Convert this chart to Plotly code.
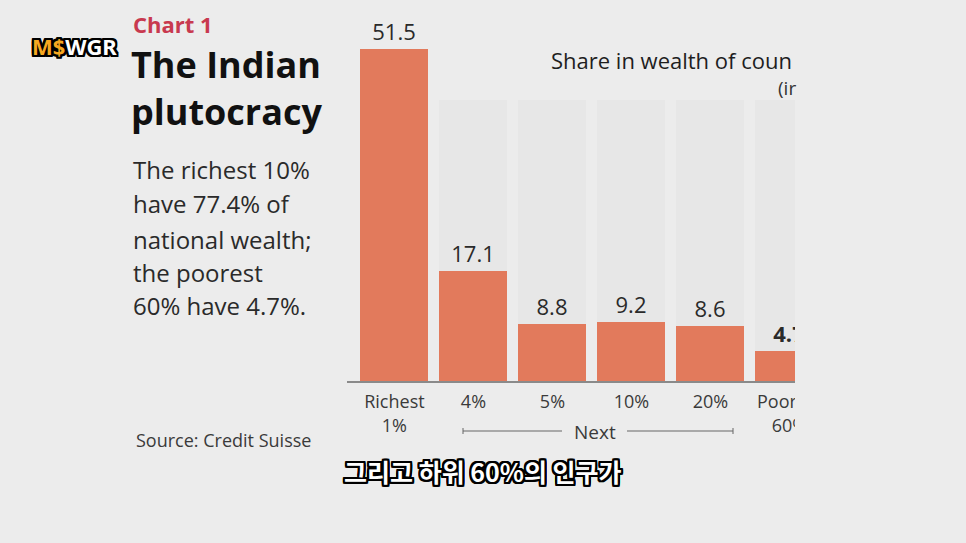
import plotly.graph_objects as go

# ===================== data =====================
GROUPS = ["Richest<br>1%", "4%", "5%", "10%", "20%", "Poorest<br>60%"]
SHARE = [51.5, 17.1, 8.8, 9.2, 8.6, 4.7]
HIGHLIGHT = [False, False, False, False, False, True]

# ===================== style =====================
W, H = 966, 543
BG = "#ececec"
BAR = "#e27a5c"
BG_TOP = 43.5          # height of the faint grey columns behind the bars
FONT = "Open Sans"


def px_x(x):
    return x / W


def px_y(y):
    return 1 - y / H


labels = [f"<b>{v}</b>" if hl else f"{v}" for v, hl in zip(SHARE, HIGHLIGHT)]
xs = list(range(len(GROUPS)))

fig = go.Figure()
# faint grey column behind every bar
fig.add_trace(go.Bar(
    x=xs, y=[BG_TOP] * len(xs), width=0.86,
    marker=dict(color="rgba(200,200,200,0.13)", line_width=0),
    hoverinfo="skip", showlegend=False,
))
fig.add_trace(go.Bar(
    x=xs, y=SHARE, width=0.86,
    marker=dict(color=BAR, line_width=0),
    text=labels, textposition="outside", cliponaxis=True, constraintext="none",
    textfont=dict(family=FONT, size=22, color="#2a2a2a"),
    showlegend=False,
))

shapes = [
    # "Next" bracket
    dict(type="line", xref="paper", yref="paper", x0=px_x(463), x1=px_x(562), y0=px_y(431), y1=px_y(431),
         line=dict(color="#666", width=1)),
    dict(type="line", xref="paper", yref="paper", x0=px_x(627), x1=px_x(733), y0=px_y(431), y1=px_y(431),
         line=dict(color="#666", width=1)),
    dict(type="line", xref="paper", yref="paper", x0=px_x(463), x1=px_x(463), y0=px_y(428), y1=px_y(434),
         line=dict(color="#666", width=1)),
    dict(type="line", xref="paper", yref="paper", x0=px_x(733), x1=px_x(733), y0=px_y(428), y1=px_y(434),
         line=dict(color="#666", width=1)),
    # the frame cuts the chart off on the right
    dict(type="rect", xref="paper", yref="paper", x0=px_x(795), x1=1, y0=0, y1=1,
         fillcolor=BG, line_width=0, layer="above"),
]

OUTLINE = ", ".join(f"{dx}px {dy}px 0 #000" for dx in (-2, -1, 0, 1, 2) for dy in (-2, -1, 0, 1, 2)
                    if (dx, dy) != (0, 0))


def note(text, x, y, size, color="#2a2a2a", anchor="left", family=FONT, **font):
    return dict(text=text, xref="paper", yref="paper", x=px_x(x), y=px_y(y),
                xanchor=anchor, yanchor="middle", showarrow=False,
                font=dict(family=family, size=size, color=color, **font))


annotations = [
    note("<b>Chart 1</b>", 131, 24, 22, color="#c8394f"),
    note("<b>The Indian</b>", 129, 64, 36, color="#111"),
    note("<b>plutocracy</b>", 129, 111, 36, color="#111"),
    note("The richest 10%", 131, 169, 24),
    note("have 77.4% of", 131, 204, 24),
    note("national wealth;", 131, 239, 24),
    note("the poorest", 131, 272, 24),
    note("60% have 4.7%.", 131, 305, 24),
    note("Source: Credit Suisse", 134, 440, 18, color="#3a3a3a"),
    note("Next", 595, 432, 19, color="#3a3a3a", anchor="center"),
    note("Share in wealth of coun", 549, 60, 22, color="#1e1e1e"),
    note("(ir", 776, 88, 19, color="#333"),
    note("<b><span style='color:#f6a821'>M$</span>WGR</b>", 30, 46, 22, color="#ffffff",
         family="Noto Sans", shadow=OUTLINE),
    note("<b>그리고 하위 60%의 인구가</b>", 483, 471, 25, color="#ffffff", anchor="center",
         family="Noto Sans CJK KR", shadow=OUTLINE),
]

fig.update_layout(
    width=W, height=H, autosize=False,
    margin=dict(l=0, r=0, t=0, b=0, pad=0),
    paper_bgcolor=BG, plot_bgcolor="rgba(0,0,0,0)",
    barmode="overlay", bargap=0,
    xaxis=dict(
        domain=[px_x(347), px_x(795)], range=[-0.6, 5.07], automargin=False,
        tickvals=xs, ticktext=GROUPS, ticks="", ticklabelstandoff=4,
        tickfont=dict(family=FONT, size=18, color="#3a3a3a"),
        showline=True, linecolor="#8a8a8a", linewidth=1.5,
        showgrid=False, zeroline=False, fixedrange=True,
    ),
    yaxis=dict(
        domain=[px_y(381), px_y(8)], range=[0, 57.8], automargin=False,
        visible=False, fixedrange=True,
    ),
    shapes=shapes,
    annotations=annotations,
)

# page margin off so the figure sits at the window's corner
fig.write_html("out.html", config=dict(displayModeBar=False),
               post_script="document.body.style.margin='0';document.body.style.overflow='hidden';")
